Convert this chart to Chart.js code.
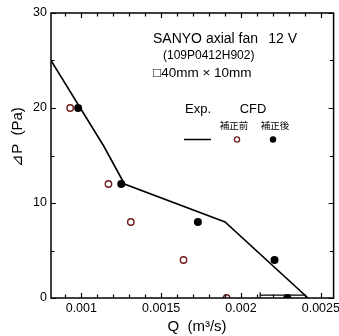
<!DOCTYPE html>
<html>
<head>
<meta charset="utf-8">
<script src="https://cdn.jsdelivr.net/npm/chart.js@4/dist/chart.umd.min.js"></script>
<style>
html,body{margin:0;padding:0;background:#fff;}
#wrap{width:339px;height:336px;position:relative;}
</style>
</head>
<body>
<div id="wrap"><canvas id="c" width="339" height="336"></canvas></div>
<script>
// ---- data ----
const expQ = [0.00081, 0.00114, 0.00127, 0.00190, 0.00242];
const expP = [25, 16, 12, 8, 0];
const cfdBeforeQ = [0.00093, 0.00117, 0.00131, 0.00164, 0.00191];
const cfdBeforeP = [20, 12, 8, 4, 0];
const cfdAfterQ = [0.00098, 0.00125, 0.00173, 0.00221, 0.00229];
const cfdAfterP = [20, 12, 8, 4, 0];
const errQ = [0.00212, 0.00240];
const errP = [0.3, 0.3];
const xMajorTicks = [0.001, 0.0015, 0.002, 0.0025];
const xTickLabels = ['0.001', '0.0015', '0.002', '0.0025'];
const xMinorTicks = [0.0009,0.001,0.0011,0.0012,0.0013,0.0014,0.0015,0.0016,0.0017,0.0018,0.0019,0.002,0.0021,0.0022,0.0023,0.0024,0.0025];
const yMajorTicks = [0, 10, 20, 30];
const yTickLabels = ['0', '10', '20', '30'];
const yMinorTicks = [0, 5, 10, 15, 20, 25, 30];

const pts = (xs, ys) => xs.map((v, i) => ({x: v, y: ys[i]}));
const FONT = '"Liberation Sans", Arial, sans-serif';
const CJK = '"Noto Sans CJK JP", sans-serif';
const near = (a, b) => Math.abs(a - b) < 1e-9;

const framePlugin = {
  id: 'frame',
  afterDatasetsDraw(chart) {
    const {ctx, chartArea: a, scales: {x, y}} = chart;
    ctx.save();
    ctx.strokeStyle = '#000';
    ctx.lineWidth = 1.5;
    ctx.strokeRect(a.left, a.top, a.right - a.left, a.bottom - a.top);
    ctx.lineWidth = 1.2;
    ctx.beginPath();
    xMinorTicks.forEach(v => {
      const px = Math.round(x.getPixelForValue(v)) + 0.5;
      const len = xMajorTicks.some(m => near(m, v)) ? 5 : 3.5;
      ctx.moveTo(px, a.bottom); ctx.lineTo(px, a.bottom - len);
      ctx.moveTo(px, a.top); ctx.lineTo(px, a.top + len);
    });
    yMinorTicks.forEach(v => {
      const py = Math.round(y.getPixelForValue(v)) + 0.5;
      const len = yMajorTicks.includes(v) ? 5 : 3.5;
      ctx.moveTo(a.left, py); ctx.lineTo(a.left + len, py);
      ctx.moveTo(a.right, py); ctx.lineTo(a.right - len, py);
    });
    ctx.stroke();
    ctx.restore();
  },
  afterDraw(chart) {
    const {ctx, chartArea: a} = chart;
    const L = a.left, T = a.top;
    ctx.save();
    ctx.fillStyle = '#000';
    ctx.textBaseline = 'middle';
    // titles
    ctx.font = '15px ' + FONT;
    ctx.textAlign = 'center';
    ctx.fillText('Q  (m³/s)', 197, 327);
    ctx.save();
    ctx.translate(18, 137);
    ctx.rotate(-Math.PI / 2);
    ctx.fillText('⊿P  (Pa)', 0, 0);
    ctx.restore();
    // annotation
    ctx.textAlign = 'left';
    ctx.font = '14px ' + FONT;
    ctx.fillText('SANYO axial fan', L + 102, T + 26);
    ctx.textAlign = 'right';
    ctx.fillText('12 V', L + 246, T + 26);
    ctx.textAlign = 'left';
    ctx.font = '12px ' + FONT;
    ctx.fillText('(109P0412H902)', L + 112, T + 43);
    ctx.font = '13.5px ' + FONT;
    ctx.fillText('□40mm × 10mm', L + 102, T + 60);
    ctx.font = '13px ' + FONT;
    ctx.textAlign = 'center';
    ctx.fillText('Exp.', L + 147, T + 96);
    ctx.fillText('CFD', L + 202, T + 96);
    ctx.font = '9.5px ' + CJK;
    ctx.fillText('補正前', L + 183, T + 112);
    ctx.fillText('補正後', L + 224, T + 112);
    // legend symbols
    ctx.strokeStyle = '#000';
    ctx.lineWidth = 1.5;
    ctx.beginPath();
    ctx.moveTo(L + 133, T + 126.5); ctx.lineTo(L + 160, T + 126.5);
    ctx.stroke();
    ctx.strokeStyle = '#6e1c1c';
    ctx.lineWidth = 1.3;
    ctx.beginPath();
    ctx.arc(L + 186, T + 126.5, 2.6, 0, Math.PI * 2);
    ctx.stroke();
    ctx.fillStyle = '#000';
    ctx.beginPath();
    ctx.arc(L + 222, T + 126.5, 3.2, 0, Math.PI * 2);
    ctx.fill();
    ctx.restore();
  }
};

new Chart(document.getElementById('c'), {
  type: 'scatter',
  data: {
    datasets: [
      {
        label: 'Exp.',
        data: pts(expQ, expP),
        showLine: true,
        borderColor: '#000',
        borderWidth: 1.6,
        pointRadius: 0,
        tension: 0,
        order: 3
      },
      {
        label: 'err',
        data: pts(errQ, errP),
        showLine: true,
        borderColor: '#000',
        borderWidth: 1.2,
        pointStyle: 'line',
        rotation: 90,
        pointRadius: [3, 0],
        pointBorderWidth: 1.2,
        order: 4
      },
      {
        label: '補正前',
        data: pts(cfdBeforeQ, cfdBeforeP),
        pointRadius: 3.2,
        pointBorderWidth: 1.4,
        pointBorderColor: '#6e1c1c',
        pointBackgroundColor: '#fff',
        order: 2
      },
      {
        label: '補正後',
        data: pts(cfdAfterQ, cfdAfterP),
        pointRadius: 4,
        pointBorderWidth: 0,
        pointBackgroundColor: '#000',
        pointBorderColor: '#000',
        order: 1
      }
    ]
  },
  options: {
    responsive: false,
    animation: false,
    devicePixelRatio: 1,
    layout: {padding: {top: 13, right: 3, left: 0, bottom: 0}},
    plugins: {legend: {display: false}, tooltip: {enabled: false}},
    scales: {
      x: {
        type: 'linear',
        min: 0.00081,
        max: 0.00258,
        grid: {display: false, drawTicks: false},
        border: {display: false},
        afterBuildTicks(s) { s.ticks = xMinorTicks.map(v => ({value: v})); },
        afterFit(s) { s.height = 38; s.paddingLeft = 0; s.paddingRight = 0; },
        ticks: {
          autoSkip: false,
          maxRotation: 0,
          minRotation: 0,
          padding: 3,
          color: '#000',
          font: {family: FONT, size: 12.5},
          callback(v) {
            const i = xMajorTicks.findIndex(m => near(m, v));
            return i >= 0 ? xTickLabels[i] : '';
          }
        }
      },
      y: {
        min: 0,
        max: 30,
        grid: {display: false, drawTicks: false},
        border: {display: false},
        afterBuildTicks(s) { s.ticks = yMinorTicks.map(v => ({value: v})); },
        afterFit(s) { s.width = 51; s.paddingTop = 0; s.paddingBottom = 0; },
        ticks: {
          autoSkip: false,
          padding: 4,
          color: '#000',
          font: {family: FONT, size: 12.5},
          callback(v) {
            const i = yMajorTicks.indexOf(v);
            return i >= 0 ? yTickLabels[i] : '';
          }
        }
      }
    }
  },
  plugins: [framePlugin]
});
</script>
</body>
</html>
